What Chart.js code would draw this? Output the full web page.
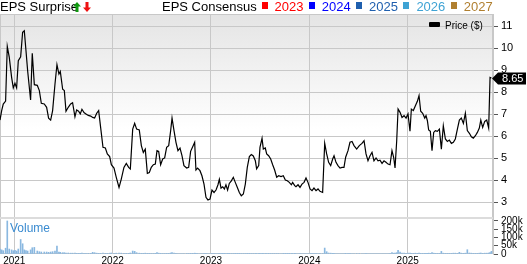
<!DOCTYPE html>
<html>
<head>
<meta charset="utf-8">
<script src="https://cdn.jsdelivr.net/npm/chart.js@4"></script>
<style>
  html, body { margin: 0; padding: 0; background: #fff; }
  #wrap { position: relative; width: 527px; height: 264px; font-family: "Liberation Sans", Arial, sans-serif; }
  #chart { position: absolute; left: 0; top: 0; }
  .lbl { position: absolute; white-space: nowrap; line-height: 13px; font-size: 13px; color: #000; }
  .sq { position: absolute; top: 2px; width: 6px; height: 7px; }
</style>
</head>
<body>
<div id="wrap">
  <canvas id="chart" width="527" height="264"></canvas>
  <div class="lbl" style="left:0;top:0">EPS Surprise</div>
  <svg style="position:absolute;left:73px;top:2px" width="8" height="10"><polygon points="4,0 8,4.5 5.5,4.5 5.5,10 2.5,10 2.5,4.5 0,4.5" fill="#119911"/></svg>
  <svg style="position:absolute;left:83px;top:2px" width="8" height="10"><polygon points="2.5,0 5.5,0 5.5,5.5 8,5.5 4,10 0,5.5 2.5,5.5" fill="#ee1111"/></svg>
  <div class="lbl" style="left:162px;top:0">EPS Consensus</div>
  <div id="consensus"></div>
  <div style="position:absolute;left:429px;top:22px;width:11px;height:5px;background:#000;border-radius:1px"></div>
  <div class="lbl" style="left:445px;top:19px;font-size:10px">Price ($)</div>
  <div class="lbl" style="left:10px;top:222px;font-size:12px;color:#3a8bd0">Volume</div>
</div>
<script>
// weekly-ish closes (decimal years)
const priceYears = [
  2020.855, 2020.872, 2020.888, 2020.912, 2020.929, 2020.949, 2020.973, 2020.990, 2021.007, 2021.024,
  2021.041, 2021.065, 2021.085, 2021.102, 2021.119, 2021.136, 2021.166, 2021.183, 2021.204, 2021.234,
  2021.255, 2021.275, 2021.305, 2021.329, 2021.349, 2021.370, 2021.390, 2021.414, 2021.434, 2021.454,
  2021.468, 2021.492, 2021.509, 2021.526, 2021.549, 2021.573, 2021.593, 2021.617, 2021.634, 2021.654,
  2021.671, 2021.688, 2021.709, 2021.729, 2021.753, 2021.777, 2021.797, 2021.817, 2021.838, 2021.858,
  2021.878, 2021.902, 2021.926, 2021.946, 2021.970, 2021.987, 2022.014, 2022.037, 2022.065, 2022.088,
  2022.115, 2022.139, 2022.163, 2022.180, 2022.204, 2022.224, 2022.244, 2022.271, 2022.292, 2022.312,
  2022.332, 2022.353, 2022.373, 2022.393, 2022.414, 2022.434, 2022.451, 2022.468, 2022.488, 2022.509,
  2022.529, 2022.549, 2022.570, 2022.590, 2022.604, 2022.624, 2022.644, 2022.664, 2022.685, 2022.705,
  2022.725, 2022.753, 2022.773, 2022.793, 2022.814, 2022.834, 2022.847,
  2022.864, 2022.888, 2022.908, 2022.929, 2022.949, 2022.969, 2022.990, 2023.010, 2023.031, 2023.051,
  2023.071, 2023.085, 2023.102, 2023.119, 2023.136, 2023.152, 2023.169, 2023.186, 2023.207, 2023.227,
  2023.247, 2023.268, 2023.288, 2023.308, 2023.329, 2023.349, 2023.369, 2023.390, 2023.410, 2023.430,
  2023.451, 2023.464, 2023.485, 2023.498, 2023.519, 2023.532, 2023.552, 2023.566, 2023.586, 2023.607,
  2023.627, 2023.647, 2023.668, 2023.688, 2023.712, 2023.735, 2023.756, 2023.776, 2023.796, 2023.817,
  2023.830, 2023.851,
  2023.864, 2023.885, 2023.905, 2023.925, 2023.946, 2023.966, 2023.986, 2024.007, 2024.027, 2024.047,
  2024.068, 2024.088, 2024.108, 2024.135, 2024.156, 2024.176, 2024.196, 2024.217, 2024.237, 2024.251,
  2024.271, 2024.291, 2024.312, 2024.332, 2024.352, 2024.369, 2024.393, 2024.413, 2024.434, 2024.454,
  2024.481, 2024.508, 2024.535, 2024.556, 2024.576, 2024.596, 2024.617, 2024.637, 2024.657, 2024.678,
  2024.698, 2024.718, 2024.739, 2024.759, 2024.779, 2024.800, 2024.820, 2024.840,
  2024.857, 2024.871, 2024.888, 2024.902, 2024.922, 2024.942, 2024.963, 2024.983, 2025.003, 2025.023,
  2025.037, 2025.057, 2025.078, 2025.098, 2025.115, 2025.132, 2025.152, 2025.173, 2025.186, 2025.200,
  2025.213, 2025.230, 2025.247, 2025.264, 2025.281, 2025.301, 2025.322, 2025.342, 2025.362, 2025.383,
  2025.403, 2025.423, 2025.444, 2025.464, 2025.484, 2025.505, 2025.525, 2025.545, 2025.566, 2025.586,
  2025.606, 2025.627, 2025.647, 2025.667, 2025.688, 2025.708, 2025.728, 2025.743, 2025.762, 2025.783,
  2025.803, 2025.823, 2025.837, 2025.851
];

const priceValues = [
  6.74, 7.17, 7.47, 7.60, 10.09, 9.60, 8.68, 8.20, 8.41, 8.20,
  9.44, 9.62, 10.73, 10.80, 9.90, 8.98, 7.65, 9.77, 8.35, 8.32,
  8.08, 7.50, 7.47, 7.32, 6.83, 6.74, 7.17, 8.38, 9.26, 8.83,
  8.95, 8.14, 8.08, 7.14, 7.32, 7.47, 7.53, 6.89, 7.20, 7.14,
  7.02, 7.23, 7.08, 7.02, 6.95, 6.92, 6.86, 6.83, 7.05, 7.17,
  6.41, 5.50, 5.47, 5.20, 5.08, 4.71, 4.56, 4.14, 3.68, 4.06,
  4.59, 4.77, 4.59, 4.52, 6.33, 6.59, 6.33, 6.29, 5.58, 5.27,
  5.42, 4.32, 4.36, 4.59, 4.71, 4.74, 5.35, 5.32, 4.71, 4.97,
  5.02, 5.50, 5.58, 6.26, 6.83, 6.26, 5.73, 5.35, 5.47, 5.12,
  4.67, 4.56, 4.59, 5.32, 5.53, 5.73, 4.47,
  4.56, 4.44, 4.21, 3.83, 3.23, 3.11, 3.15, 3.56, 3.45, 3.56,
  3.80, 4.05, 3.65, 3.71, 3.61, 3.80, 3.56, 3.86, 3.98, 4.14,
  3.91, 3.68, 3.45, 3.30, 3.38, 3.83, 4.59, 5.08, 5.17, 5.11,
  4.89, 4.52, 4.67, 5.50, 5.91, 5.42, 5.47, 5.20, 5.12, 4.97,
  4.71, 4.47, 4.14, 4.21, 4.17, 4.21, 4.02, 3.98, 3.91, 3.80,
  3.91, 3.76,
  3.71, 3.80, 3.68, 3.83, 3.91, 4.11, 3.91, 3.61, 3.53, 3.65,
  3.53, 3.61, 3.50, 3.45, 5.68, 5.20, 4.82, 4.67, 4.97, 5.12,
  4.82, 4.67, 4.56, 4.59, 4.59, 5.05, 5.35, 5.73, 5.77, 5.58,
  5.42, 5.58, 5.68, 5.80, 5.20, 4.89, 5.12, 5.27, 4.89, 5.02,
  4.89, 4.92, 4.77, 4.89, 4.82, 4.74, 4.71, 5.35,
  5.05, 4.56, 5.80, 7.24, 7.09, 6.86, 6.94, 6.83, 7.02, 6.23,
  7.24, 7.17, 7.39, 7.59, 7.85, 7.14, 7.05, 6.83, 6.94, 6.71,
  6.29, 6.23, 5.35, 6.18, 6.26, 6.23, 6.33, 5.42, 6.48, 5.88,
  5.77, 5.83, 5.68, 5.73, 5.88, 6.33, 6.74, 6.83, 6.59, 7.05,
  6.26, 6.14, 5.98, 5.92, 6.03, 6.18, 6.38, 6.74, 6.41, 6.68,
  6.74, 6.38, 8.68, 8.65
];

// volume in thousands, one per price point
const volumeK = [
  30, 25, 20, 35, 200, 30, 25, 20, 22, 18,
  30, 88, 62, 25, 20, 18, 25, 38, 40, 18,
  14, 12, 12, 12, 10, 12, 14, 18, 48, 12,
  10, 8, 8, 6, 6, 5, 5, 5, 4, 4,
  4, 6, 4, 4, 4, 4, 10, 8, 5, 4,
  4, 5, 4, 4, 5, 6, 4, 5, 6, 5,
  4, 4, 4, 6, 18, 16, 8, 5, 4, 4,
  5, 4, 4, 3, 3, 4, 8, 5, 4, 3,
  3, 4, 4, 6, 8, 5, 4, 3, 3, 3,
  3, 3, 3, 4, 4, 5, 4,
  3, 3, 3, 4, 4, 3, 3, 2, 2, 3,
  3, 3, 2, 2, 2, 3, 2, 2, 3, 3,
  2, 2, 2, 3, 3, 3, 4, 4, 3, 3,
  3, 3, 3, 4, 4, 3, 3, 3, 2, 3,
  3, 3, 3, 3, 3, 2, 2, 2, 2, 3,
  3, 2,
  3, 3, 2, 3, 3, 3, 3, 2, 2, 2,
  2, 3, 2, 3, 36, 14, 6, 5, 4, 4,
  3, 3, 3, 3, 3, 4, 4, 4, 3, 3,
  3, 3, 3, 3, 4, 3, 3, 3, 3, 3,
  3, 3, 3, 3, 3, 3, 4, 8,
  5, 6, 8, 22, 12, 6, 5, 4, 6, 5,
  4, 4, 5, 4, 5, 4, 4, 4, 4, 4,
  5, 4, 8, 5, 4, 4, 4, 16, 5, 4,
  4, 4, 4, 5, 5, 4, 10, 5, 4, 5,
  26, 6, 5, 4, 4, 4, 5, 6, 4, 5,
  5, 6, 8, 16
];

const yearTicks   = [2021, 2022, 2023, 2024, 2025];
const priceTicks  = [3, 4, 5, 6, 7, 8, 9, 10, 11];
const volumeTicks = [0, 50, 100, 150, 200];

const consensusYears  = ['2023', '2024', '2025', '2026', '2027'];
const consensusColors = ['#ff0000', '#0000ff', '#1f5fae', '#3ea3d4', '#b07f2f'];

const GRID = '#c8c8c8';
const FONT = '"Liberation Sans", Arial, sans-serif';

// consensus legend in the header
const consensusBox = document.getElementById('consensus');
consensusYears.forEach((yr, i) => {
  const left = 261.5 + i * 47.3;
  const sq = document.createElement('div');
  sq.className = 'sq';
  sq.style.left = left + 'px';
  sq.style.background = consensusColors[i];
  const txt = document.createElement('div');
  txt.className = 'lbl';
  txt.style.left = (left + 13) + 'px';
  txt.style.top = '0px';
  txt.style.color = consensusColors[i];
  txt.textContent = yr;
  consensusBox.appendChild(sq);
  consensusBox.appendChild(txt);
});

const panelPlugin = {
  id: 'panels',
  beforeDraw(chart) {
    const { ctx, chartArea } = chart;
    const py = chart.scales.y;
    ctx.save();
    const grad = ctx.createLinearGradient(0, py.top, 0, py.top + 115);
    grad.addColorStop(0, '#e4e4e4');
    grad.addColorStop(1, '#ffffff');
    ctx.fillStyle = grad;
    ctx.fillRect(chartArea.left, py.top, chartArea.right - chartArea.left, py.bottom - py.top);
    ctx.restore();
  },
  beforeDatasetsDraw(chart) {
    const { ctx, chartArea } = chart;
    const py = chart.scales.y;
    ctx.save();
    ctx.strokeStyle = GRID;
    ctx.lineWidth = 1;
    ctx.strokeRect(chartArea.left + 0.5, chartArea.top + 0.5, chartArea.right - chartArea.left - 1, chartArea.bottom - chartArea.top - 1);
    ctx.fillStyle = '#dcdcdc';
    ctx.fillRect(chartArea.left, py.bottom - 1, chartArea.right - chartArea.left, 2);
    ctx.restore();
  },
  afterDraw(chart) {
    const { ctx, chartArea } = chart;
    const last = priceValues[priceValues.length - 1];
    const y = Math.round(chart.scales.y.getPixelForValue(last)) + 0.5;
    const x = chartArea.right - 1;
    ctx.save();
    ctx.fillStyle = '#000';
    ctx.beginPath();
    ctx.moveTo(x, y);
    ctx.lineTo(x + 6, y - 6);
    ctx.lineTo(526, y - 6);
    ctx.lineTo(526, y + 6);
    ctx.lineTo(x + 6, y + 6);
    ctx.closePath();
    ctx.fill();
    ctx.fillStyle = '#fff';
    ctx.font = '11px ' + FONT;
    ctx.textBaseline = 'middle';
    ctx.fillText(last.toFixed(2), x + 10, y + 0.5);
    ctx.restore();
  }
};

new Chart(document.getElementById('chart'), {
  type: 'line',
  data: {
    datasets: [
      {
        type: 'line',
        data: priceYears.map((x, i) => ({ x, y: priceValues[i] })),
        yAxisID: 'y',
        borderColor: '#000',
        borderWidth: 1.2,
        pointRadius: 0,
        tension: 0,
        order: 1
      },
      {
        type: 'bar',
        data: priceYears.map((x, i) => ({ x, y: volumeK[i] })),
        yAxisID: 'yVol',
        backgroundColor: '#8ab8e0',
        barThickness: 1,
        order: 2
      }
    ]
  },
  options: {
    responsive: false,
    animation: false,
    devicePixelRatio: 1,
    layout: { padding: { top: 14, left: 0, right: 0, bottom: 0 } },
    plugins: { legend: { display: false }, tooltip: { enabled: false } },
    scales: {
      x: {
        type: 'linear',
        offset: false,
        min: 2020.855,
        max: 2025.867,
        afterBuildTicks: s => { s.ticks = yearTicks.map(v => ({ value: v })); },
        afterFit: s => { s.height = 10; },
        grid: { color: GRID, drawTicks: false, offset: false },
        border: { display: false },
        ticks: { padding: 1, autoSkip: false, color: '#000', font: { family: FONT, size: 10 }, callback: v => String(v) }
      },
      y: {
        position: 'right',
        stack: 'panels',
        stackWeight: 204,
        min: 2.29,
        max: 11.56,
        afterBuildTicks: s => { s.ticks = priceTicks.map(v => ({ value: v })); },
        afterFit: s => { s.width = 34; },
        grid: { color: GRID, tickLength: 5, tickColor: '#555' },
        border: { color: GRID },
        ticks: { padding: 3, autoSkip: false, color: '#000', font: { family: FONT, size: 11 } }
      },
      yVol: {
        position: 'right',
        stack: 'panels',
        stackWeight: 36,
        min: 0,
        max: 218,
        afterBuildTicks: s => { s.ticks = volumeTicks.map(v => ({ value: v })); },
        afterFit: s => { s.width = 34; },
        grid: { drawOnChartArea: false, tickLength: 5, tickColor: '#555' },
        border: { color: GRID },
        ticks: {
          padding: 3, autoSkip: false, color: '#000',
          font: { family: FONT, size: 10, lineHeight: 1 },
          callback: v => (v === 0 ? '0' : v + 'k')
        }
      }
    }
  },
  plugins: [panelPlugin]
});
</script>
</body>
</html>
